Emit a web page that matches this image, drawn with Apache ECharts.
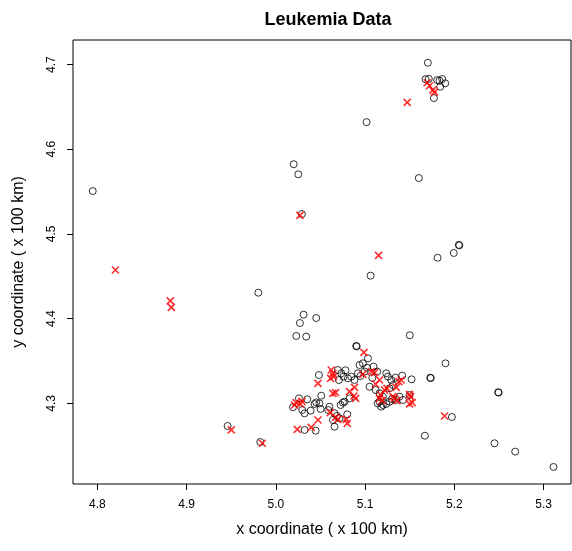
<!DOCTYPE html>
<html>
<head>
<meta charset="utf-8">
<script src="https://cdn.jsdelivr.net/npm/echarts@6/dist/echarts.min.js"></script>
<style>html,body{margin:0;padding:0;background:#fff}#c{width:572px;height:551px}</style>
</head>
<body>
<div id="c"></div>
<script>
var xTicks = [4.8, 4.9, 5.0, 5.1, 5.2, 5.3];
var yTicks = [4.3, 4.4, 4.5, 4.6, 4.7];

var controls = [
  [5.1702,4.7021],[5.1676,4.6826],[5.1713,4.6832],[5.1807,4.6817],[5.1833,4.6809],[5.1863,4.6829],[5.1897,4.6778],[5.1841,4.6738],[5.1770,4.6604],
  [5.1016,4.6320],[4.7948,4.5506],[5.0199,4.5823],[5.0251,4.5704],[5.1601,4.5660],[5.0291,4.5235],[5.1811,4.4719],[5.1993,4.4775],[5.2049,4.4870],[5.2055,4.4865],
  [5.1061,4.4507],[4.9803,4.4306],[5.0310,4.4046],[5.0452,4.4007],[5.0269,4.3948],[5.1500,4.3803],[5.0228,4.3795],[5.0340,4.3787],[5.0900,4.3677],[5.0905,4.3672],
  [5.1900,4.3472],[5.1729,4.3302],[5.1735,4.3298],[5.2490,4.3130],[5.2495,4.3127],[5.1971,4.2838],[5.1669,4.2617],[5.2449,4.2528],[5.2681,4.2429],[5.3110,4.2248],
  [4.9459,4.2732],[4.9825,4.2543],
  [5.0258,4.3059],[5.0351,4.3047],[5.0191,4.2953],[5.0295,4.2921],[5.0321,4.2882],[5.0389,4.2913],[5.0452,4.3011],[5.0489,4.2999],[5.0501,4.2933],[5.0508,4.3090],
  [5.0482,4.3334],[5.0433,4.2992],
  [5.0695,4.3393],[5.0732,4.3354],[5.0807,4.3295],[5.0758,4.3315],[5.0706,4.3275],
  [5.0825,4.3059],[5.0769,4.3019],[5.0725,4.2980],[5.0751,4.3008],[5.0586,4.2921],[5.0657,4.2882],[5.0684,4.2850],[5.0713,4.2823],[5.0639,4.2803],[5.0799,4.2870],
  [5.0657,4.2724],[5.0321,4.2685],[5.0445,4.2677],
  [5.0937,4.3452],[5.0975,4.3472],[5.1031,4.3531],[5.1094,4.3433],[5.1135,4.3374],[5.0919,4.3354],[5.0945,4.3322],[5.0993,4.3374],[5.0881,4.3275],[5.0844,4.3315],
  [5.1049,4.3196],
  [5.1236,4.3354],[5.1255,4.3315],[5.1292,4.3275],[5.1341,4.3303],[5.1415,4.3326],[5.1520,4.3283],[5.1117,4.3157],[5.1161,4.3118],[5.1199,4.3078],[5.1273,4.3019],
  [5.1348,4.3039],[5.1161,4.3019],[5.1199,4.2980],[5.1236,4.2992],[5.1180,4.2960],[5.1385,4.3078],[5.1423,4.3039],[5.1497,4.3098],[5.1273,4.3177],[5.1311,4.3216],
  [5.1140,4.3000],[5.1300,4.3050],[5.0780,4.3390],[5.1020,4.3420],[5.1080,4.3300],[5.0600,4.2960]
];

var cases = [
  [5.1695,4.6785],[5.1721,4.6750],[5.1758,4.6699],[5.1777,4.6675],[5.1471,4.6554],[5.0269,4.5220],[5.1150,4.4747],[4.8202,4.4574],[4.8817,4.4209],[4.8829,4.4133],
  [4.9500,4.2685],[4.9848,4.2528],[5.0986,4.3602],[5.1889,4.2850],
  [5.0228,4.3008],[5.0273,4.2992],[5.0292,4.3023],[5.0209,4.2980],
  [5.0620,4.3393],[5.0639,4.3354],[5.0613,4.3295],[5.0646,4.3315],[5.0471,4.3236],[5.0639,4.3118],[5.0669,4.3126],[5.0825,4.3137],[5.0881,4.3189],[5.0893,4.3059],
  [5.0874,4.3086],[5.0609,4.2890],[5.0669,4.2834],[5.0695,4.2811],[5.0788,4.2811],[5.0799,4.2764],[5.0471,4.2803],[5.0396,4.2716],[5.0239,4.2693],
  [5.0975,4.3342],[5.1068,4.3374],[5.1105,4.3362],[5.1161,4.3275],[5.1117,4.3228],
  [5.1173,4.3098],[5.1161,4.3059],[5.1188,4.3031],[5.1217,4.3157],[5.1244,4.3177],[5.1311,4.3078],[5.1348,4.3189],[5.1378,4.3256],[5.1404,4.3275],[5.1329,4.3059],
  [5.1356,4.3031],[5.1497,4.3106],[5.1509,4.3078],[5.1497,4.2992],[5.1527,4.3008]
];

var chart = echarts.init(document.getElementById('c'), null, {renderer: 'canvas'});
var font = '"Liberation Sans", Arial, Helvetica, sans-serif';
chart.setOption({
  animation: false,
  backgroundColor: '#fff',
  title: {
    text: 'Leukemia Data', left: 323, top: 6, textAlign: 'center',
    textStyle: {fontFamily: font, fontWeight: 'bold', fontSize: 18, color: '#000'}
  },
  grid: {left: 73, right: 1, top: 40, bottom: 67, show: true, borderColor: '#000', borderWidth: 1, containLabel: false},
  xAxis: {
    type: 'value', min: 4.7727, max: 5.3306,
    name: 'x coordinate ( x 100 km)', nameLocation: 'middle', nameGap: 38,
    nameTextStyle: {fontFamily: font, fontSize: 16, color: '#000'},
    axisLine: {show: false},
    axisTick: {show: true, length: 6, lineStyle: {color: '#000'}, customValues: xTicks},
    axisLabel: {show: true, margin: 15, fontFamily: font, fontSize: 12, color: '#000', customValues: xTicks,
      formatter: function (v) { return v.toFixed(1); }},
    splitLine: {show: false}
  },
  yAxis: {
    type: 'value', min: 4.2047, max: 4.729,
    name: 'y coordinate ( x 100 km)', nameLocation: 'middle', nameGap: 46,
    nameTextStyle: {fontFamily: font, fontSize: 16, color: '#000'},
    axisLine: {show: false},
    axisTick: {show: true, length: 6, lineStyle: {color: '#000'}, customValues: yTicks},
    axisLabel: {show: true, margin: 15, rotate: 90, fontFamily: font, fontSize: 12, color: '#000', customValues: yTicks,
      formatter: function (v) { return v.toFixed(1); }},
    splitLine: {show: false}
  },
  series: [
    {
      name: 'controls', type: 'scatter', data: controls, symbol: 'circle', symbolSize: 7,
      itemStyle: {color: 'rgba(0,0,0,0)', borderColor: '#000', borderWidth: 1},
      emphasis: {disabled: true}
    },
    {
      name: 'cases', type: 'scatter', data: cases, symbol: 'path://M0,0L10,10M10,0L0,10', symbolSize: 7,
      itemStyle: {color: 'none', borderColor: '#ff0000', borderWidth: 1.7},
      emphasis: {disabled: true}
    }
  ]
});
</script>
</body>
</html>
